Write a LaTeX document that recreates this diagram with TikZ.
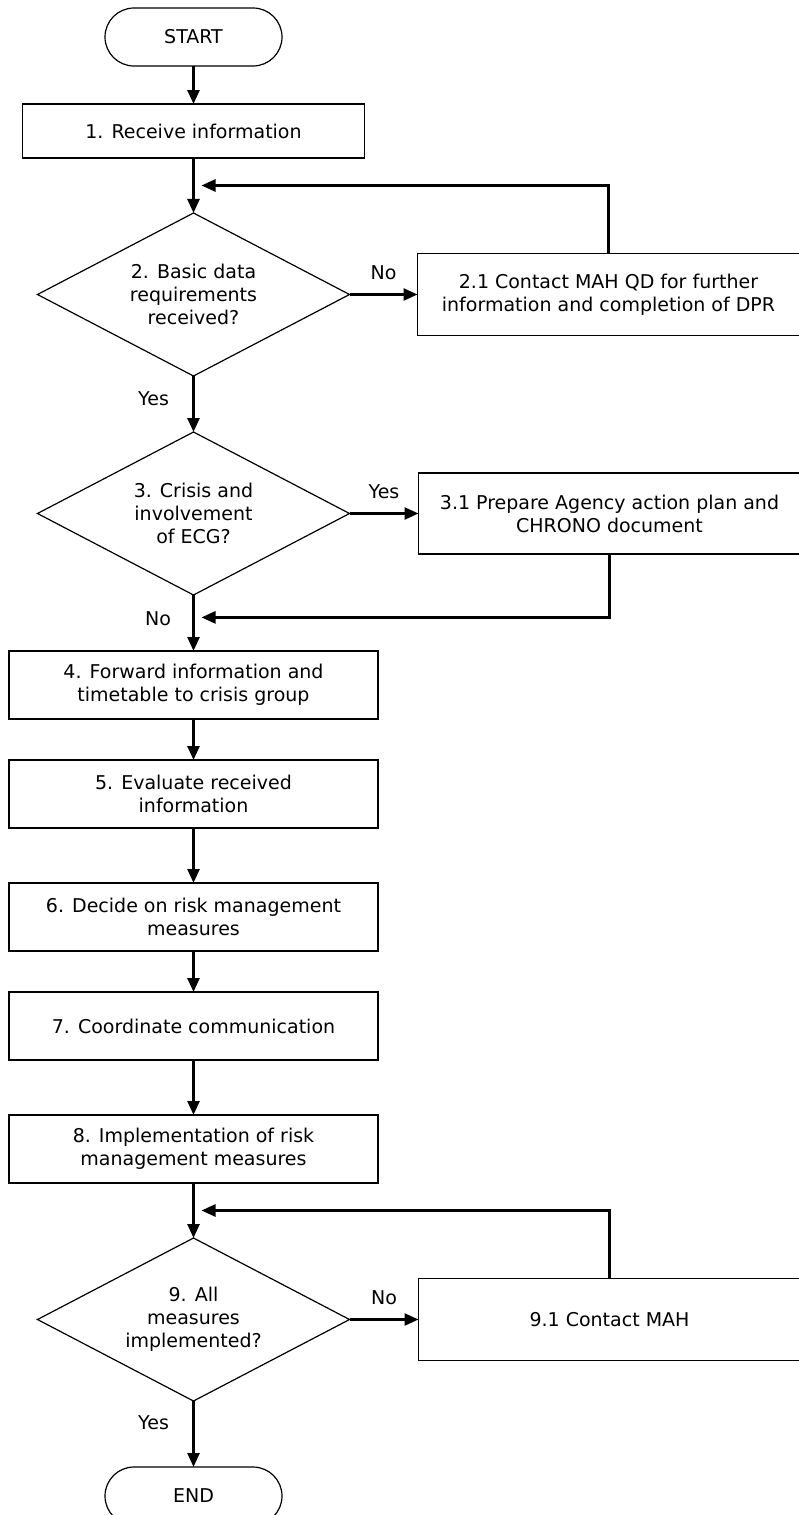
\documentclass[tikz,border=0pt]{standalone}
\usepackage{fontspec}
\setmainfont{DejaVu Sans}
\usetikzlibrary{arrows.meta,positioning,shapes.geometric,calc}

\begin{document}
\begin{tikzpicture}[
  x=1pt, y=-1pt,
  font=\fontsize{19}{23}\selectfont,
  proc/.style={rectangle, draw, line width=1.5pt, align=center, minimum width=369pt, minimum height=68pt, inner sep=0pt, outer sep=0pt},
  side/.style={proc, minimum width=382pt, minimum height=82pt},
  term/.style={rectangle, draw, line width=1.2pt, rounded corners=29pt, minimum width=177pt, minimum height=58pt, outer sep=0pt},
  decide/.style={diamond, draw, line width=1.2pt, align=center, aspect=1.914, minimum width=312pt, minimum height=163pt, inner sep=0pt, outer sep=0pt},
  flow/.style={-{Triangle[length=14pt, width=12pt]}, line width=2.5pt},
  node distance=55pt,
]
\useasboundingbox (0,0) rectangle (798,1515);

\node[term] (start) at (193.5,37) {START};
\node[proc, below=38pt of start, minimum width=342pt, minimum height=54pt] (recv) {1. Receive information};
\node[decide, below=of recv] (basic) {2. Basic data\\requirements\\received?};
\node[side, right=68pt of basic] (contact) {2.1 Contact MAH QD for further\\information and completion of DPR};
\node[decide, below=56pt of basic] (crisis) {3. Crisis and\\involvement\\of ECG?};
\node[side, right=69pt of crisis, minimum height=81pt] (plan) {3.1 Prepare Agency action plan and\\CHRONO document};
\node[proc, below=56pt of crisis] (fwd) {4. Forward information and\\timetable to crisis group};
\node[proc, below=41pt of fwd] (eval) {5. Evaluate received\\information};
\node[proc, below=of eval] (riskdec) {6. Decide on risk management\\measures};
\node[proc, below=41pt of riskdec] (coord) {7. Coordinate communication};
\node[proc, below=of coord] (impl) {8. Implementation of risk\\management measures};
\node[decide, below=of impl] (allimpl) {9. All\\measures\\implemented?};
\node[side, right=69pt of allimpl] (mah) {9.1 Contact MAH};
\node[term, below=66pt of allimpl] (end) {END};

% return points of the loops
\coordinate (back2) at ([xshift=8pt]$(recv.south)!0.5!(basic.north)$);
\coordinate (back3) at ([xshift=8pt]$(crisis.south)!0.4!(fwd.north)$);
\coordinate (back9) at ([xshift=8pt]$(impl.south)!0.5!(allimpl.north)$);

\draw[flow] (start) -- (recv);
\draw[flow] (recv) -- (basic);
\draw[flow] (basic) -- node[above=10pt] {No} (contact);
\draw[flow] (contact.north) |- (back2);
\draw[flow] (basic) -- node[left=20pt, pos=0.4] {Yes} (crisis);
\draw[flow] (crisis) -- node[above=10pt] {Yes} (plan);
\draw[flow] (plan.south) |- (back3);
\draw[flow] (crisis) -- node[left=18pt, pos=0.43] {No} (fwd);
\draw[flow] (fwd) -- (eval);
\draw[flow] (eval) -- (riskdec);
\draw[flow] (riskdec) -- (coord);
\draw[flow] (coord) -- (impl);
\draw[flow] (impl) -- (allimpl);
\draw[flow] (allimpl) -- node[above=10pt] {No} (mah);
\draw[flow] (mah.north) |- (back9);
\draw[flow] (allimpl) -- node[left=20pt, pos=0.33] {Yes} (end);
\end{tikzpicture}
\end{document}
